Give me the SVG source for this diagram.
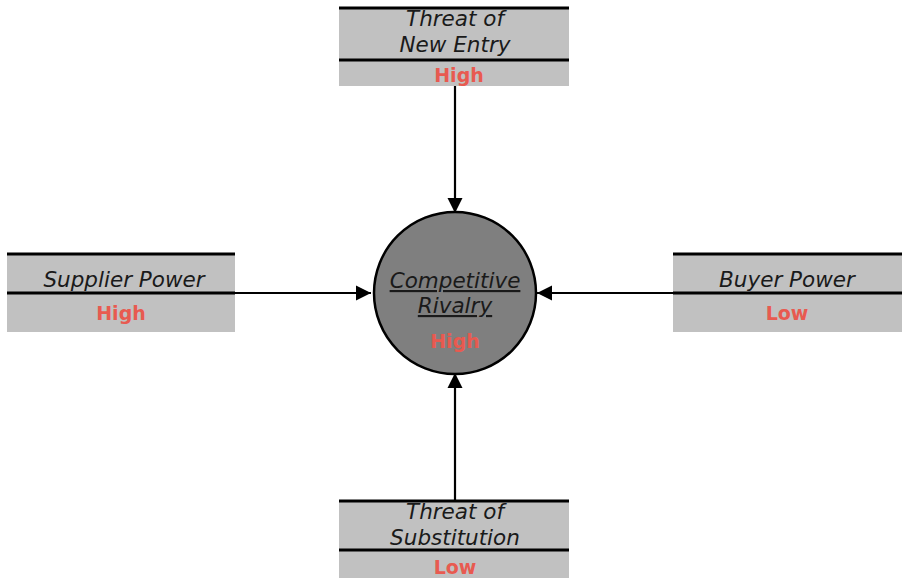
<svg xmlns="http://www.w3.org/2000/svg" width="906" height="584" viewBox="0 0 906 584">
<defs>
<marker id="ah" viewBox="0 0 10 10" refX="10" refY="5" markerWidth="7" markerHeight="7" markerUnits="strokeWidth" orient="auto">
<path d="M0,0 L10,5 L0,10 z" fill="#000"/>
</marker>
</defs>
<style>
.box{fill:#c1c1c1}
.ln{stroke:#000;stroke-width:3}
.lbl{font-family:"DejaVu Sans",Verdana,sans-serif;font-style:italic;font-size:21.5px;fill:#1a1a1a;text-anchor:middle}
.val{font-family:"DejaVu Sans",Verdana,sans-serif;font-weight:bold;font-size:19px;fill:#e85a50;text-anchor:middle}
.con{stroke:#000;stroke-width:2.2;fill:none;marker-end:url(#ah)}
</style>
<rect width="906" height="584" fill="#fff"/>
<g id="connectors">
<line class="con" x1="455" y1="86" x2="455" y2="213"/>
<line class="con" x1="455" y1="501" x2="455" y2="373"/>
<line class="con" x1="235" y1="293" x2="371" y2="293"/>
<line class="con" x1="673" y1="293" x2="537" y2="293"/>
</g>
<g id="new-entry">
<rect class="box" x="339" y="8" width="230" height="78"/>
<line class="ln" x1="339" y1="8" x2="569" y2="8"/>
<line class="ln" x1="339" y1="60" x2="569" y2="60"/>
<text class="lbl" x="455" y="26">Threat of</text>
<text class="lbl" x="455" y="52">New Entry</text>
<text class="val" x="459" y="82">High</text>
</g>
<g id="supplier">
<rect class="box" x="7" y="254" width="228" height="78"/>
<line class="ln" x1="7" y1="254" x2="235" y2="254"/>
<line class="ln" x1="7" y1="293" x2="235" y2="293"/>
<text class="lbl" x="124" y="287">Supplier Power</text>
<text class="val" x="121" y="320">High</text>
</g>
<g id="buyer">
<rect class="box" x="673" y="254" width="229" height="78"/>
<line class="ln" x1="673" y1="254" x2="902" y2="254"/>
<line class="ln" x1="673" y1="293" x2="902" y2="293"/>
<text class="lbl" x="787" y="287">Buyer Power</text>
<text class="val" x="787" y="320">Low</text>
</g>
<g id="substitution">
<rect class="box" x="339" y="501" width="230" height="77"/>
<line class="ln" x1="339" y1="501" x2="569" y2="501"/>
<line class="ln" x1="339" y1="550" x2="569" y2="550"/>
<text class="lbl" x="455" y="519">Threat of</text>
<text class="lbl" x="455" y="545">Substitution</text>
<text class="val" x="455" y="574">Low</text>
</g>
<g id="rivalry">
<circle cx="455" cy="293" r="81" fill="#7f7f7f" stroke="#000" stroke-width="2.5"/>
<text class="lbl" x="455" y="288" text-decoration="underline">Competitive</text>
<text class="lbl" x="455" y="313" text-decoration="underline">Rivalry</text>
<text class="val" x="455" y="348">High</text>
</g>
</svg>
